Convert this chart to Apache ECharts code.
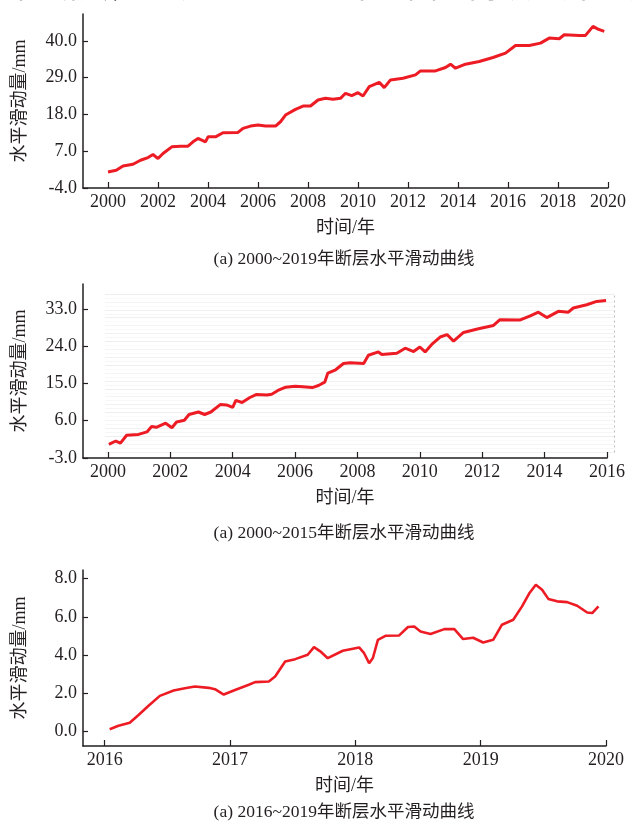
<!DOCTYPE html>
<html>
<head>
<meta charset="utf-8">
<script src="https://cdn.jsdelivr.net/npm/echarts/dist/echarts.min.js"></script>
<style>
  html, body { margin: 0; padding: 0; background: #fff; }
  #chart { width: 632px; height: 823px; }
</style>
</head>
<body>
<div id="chart"></div>
<script>
// Fault horizontal slip (mm) against time (decimal year)

// (a) 2000~2019
const years1 = [2000.0, 2000.33, 2000.6, 2001.0, 2001.3, 2001.6, 2001.8, 2002.0, 2002.2, 2002.55,
  2002.9, 2003.2, 2003.4, 2003.6, 2003.9, 2004.0, 2004.3, 2004.6, 2005.2, 2005.4,
  2005.7, 2006.0, 2006.3, 2006.7, 2006.9, 2007.1, 2007.5, 2007.8, 2008.1, 2008.4,
  2008.7, 2009.0, 2009.3, 2009.5, 2009.75, 2010.0, 2010.2, 2010.45, 2010.85, 2011.05,
  2011.3, 2011.8, 2012.3, 2012.5, 2013.1, 2013.5, 2013.7, 2013.9, 2014.3, 2014.85,
  2015.4, 2015.9, 2016.3, 2016.85, 2017.3, 2017.65, 2018.05, 2018.25, 2018.85, 2019.1,
  2019.4, 2019.6, 2019.85];
const slip1 = [0.8, 1.3, 2.6, 3.1, 4.3, 5.1, 6.0, 4.8, 6.3, 8.3,
  8.5, 8.5, 9.8, 10.8, 9.8, 11.3, 11.3, 12.5, 12.6, 13.8,
  14.5, 14.8, 14.5, 14.5, 15.8, 17.8, 19.5, 20.5, 20.5, 22.3,
  22.8, 22.5, 22.8, 24.3, 23.6, 24.5, 23.5, 26.3, 27.6, 26.0,
  28.3, 28.8, 29.8, 31.0, 31.0, 32.0, 33.0, 31.8, 33.0, 33.8,
  35.0, 36.3, 38.6, 38.6, 39.3, 40.8, 40.6, 41.8, 41.6, 41.6,
  44.3, 43.5, 42.8];

// (a) 2000~2015
const years2 = [2000.03, 2000.25, 2000.4, 2000.6, 2000.98, 2001.25, 2001.4, 2001.55, 2001.85, 2002.05,
  2002.2, 2002.45, 2002.6, 2002.9, 2003.1, 2003.3, 2003.6, 2003.8, 2004.0, 2004.1,
  2004.3, 2004.55, 2004.75, 2005.1, 2005.25, 2005.45, 2005.7, 2006.0, 2006.25, 2006.55,
  2006.75, 2006.95, 2007.05, 2007.3, 2007.55, 2007.77, 2008.2, 2008.35, 2008.67, 2008.78,
  2009.26, 2009.53, 2009.8, 2010.0, 2010.17, 2010.38, 2010.65, 2010.87, 2011.08, 2011.4,
  2011.88, 2012.36, 2012.57, 2013.2, 2013.54, 2013.8, 2014.07, 2014.44, 2014.76, 2014.92,
  2015.35, 2015.67, 2015.97];
const slip2 = [0.3, 1.1, 0.6, 2.5, 2.7, 3.3, 4.6, 4.4, 5.4, 4.3,
  5.7, 6.1, 7.5, 8.1, 7.5, 8.1, 9.9, 9.8, 9.2, 10.9,
  10.4, 11.6, 12.3, 12.2, 12.4, 13.3, 14.1, 14.3, 14.2, 14.0,
  14.5, 15.3, 17.5, 18.3, 19.8, 20.0, 19.8, 21.8, 22.6, 22.0,
  22.3, 23.5, 22.7, 23.8, 22.6, 24.4, 26.2, 26.8, 25.2, 27.3,
  28.2, 29.0, 30.4, 30.3, 31.3, 32.2, 30.9, 32.4, 32.2, 33.2,
  34.0, 34.8, 35.0];

// (a) 2016~2019
const years3 = [2016.04, 2016.11, 2016.2, 2016.27, 2016.35, 2016.44, 2016.55, 2016.64, 2016.72, 2016.83,
  2016.88, 2016.95, 2017.04, 2017.15, 2017.2, 2017.31, 2017.36, 2017.44, 2017.52, 2017.62,
  2017.67, 2017.72, 2017.78, 2017.9, 2018.03, 2018.07, 2018.11, 2018.14, 2018.18, 2018.24,
  2018.35, 2018.42, 2018.47, 2018.52, 2018.6, 2018.71, 2018.79, 2018.86, 2018.94, 2019.02,
  2019.1, 2019.17, 2019.26, 2019.33, 2019.39, 2019.44, 2019.49, 2019.54, 2019.61, 2019.69,
  2019.77, 2019.85, 2019.89, 2019.94];
const slip3 = [0.13, 0.31, 0.47, 0.87, 1.35, 1.87, 2.15, 2.27, 2.36, 2.29,
  2.22, 1.94, 2.18, 2.45, 2.59, 2.62, 2.88, 3.67, 3.79, 4.02,
  4.42, 4.2, 3.84, 4.23, 4.4, 4.1, 3.58, 3.85, 4.8, 5.01,
  5.03, 5.47, 5.5, 5.24, 5.1, 5.36, 5.36, 4.84, 4.91, 4.66,
  4.8, 5.59, 5.85, 6.55, 7.25, 7.68, 7.42, 6.94, 6.81, 6.77,
  6.58, 6.23, 6.2, 6.55];

// tick labels
const xTicks1 = [2000, 2002, 2004, 2006, 2008, 2010, 2012, 2014, 2016, 2018, 2020];
const yTicks1 = [-4, 7, 18, 29, 40];
const xTicks2 = [2000, 2002, 2004, 2006, 2008, 2010, 2012, 2014, 2016];
const yTicks2 = [-3, 6, 15, 24, 33];
const xTicks3 = [2016, 2017, 2018, 2019, 2020];
const yTicks3 = [0, 2, 4, 6, 8];

const captions = ['(a) 2000~2019年断层水平滑动曲线', '(a) 2000~2015年断层水平滑动曲线', '(a) 2016~2019年断层水平滑动曲线'];
const xName = '时间/年';
const yName = '水平滑动量/mm';

const INK = '#231f20';
const RED = '#ed1c24';
const FONT = "'Liberation Serif', 'Noto Sans CJK SC', serif";

const zip = (xs, ys) => xs.map((x, i) => [x, ys[i]]);

function xAxisDef(gridIndex, min, max, ticks) {
  return {
    type: 'value', gridIndex, min, max,
    axisLine: { show: true, onZero: false, lineStyle: { color: INK, width: 1.5 } },
    axisTick: { show: true, inside: true, length: 6, customValues: ticks, lineStyle: { color: INK, width: 1.2 } },
    axisLabel: { customValues: ticks, formatter: v => String(Math.round(v)), color: INK, fontSize: 18, fontFamily: FONT, margin: 5 },
    splitLine: { show: false },
    name: xName, nameLocation: 'middle', nameGap: 31,
    nameTextStyle: { color: INK, fontSize: 18, fontFamily: FONT }
  };
}

function yAxisDef(gridIndex, min, max, ticks) {
  return {
    type: 'value', gridIndex, min, max,
    axisLine: { show: true, onZero: false, lineStyle: { color: INK, width: 1.5 } },
    axisTick: { show: true, inside: true, length: 5, customValues: ticks, lineStyle: { color: INK, width: 1.2 } },
    axisLabel: { customValues: ticks, formatter: v => v.toFixed(1), color: INK, fontSize: 18, fontFamily: FONT, margin: 6 },
    splitLine: { show: false },
    name: yName, nameLocation: 'middle', nameGap: 54, nameRotate: 90,
    nameTextStyle: { color: INK, fontSize: 18, fontFamily: FONT }
  };
}

function lineSeries(axisIndex, data, width) {
  return {
    type: 'line', xAxisIndex: axisIndex, yAxisIndex: axisIndex,
    data, showSymbol: false, smooth: false,
    lineStyle: { color: RED, width },
    silent: true
  };
}

const chart = echarts.init(document.getElementById('chart'), null, { renderer: 'canvas' });

chart.setOption({
  animation: false,
  backgroundColor: '#fff',
  grid: [
    { left: 83, right: 24, top: 14, bottom: 635, containLabel: false },
    { left: 83, right: 25, top: 284, bottom: 365, containLabel: false },
    { left: 83, right: 26, top: 570, bottom: 77, containLabel: false },
    // faint ruled backdrop behind the middle panel
    { left: 105, right: 18, top: 294, bottom: 371, containLabel: false }
  ],
  xAxis: [
    xAxisDef(0, 1999, 2020, xTicks1),
    xAxisDef(1, 1999.2, 2016, xTicks2),
    xAxisDef(2, 2015.827, 2020, xTicks3),
    { type: 'value', gridIndex: 3, min: 0, max: 1, show: false }
  ],
  yAxis: [
    yAxisDef(0, -4, 48, yTicks1),
    yAxisDef(1, -3, 39, yTicks2),
    yAxisDef(2, -0.75, 8.45, yTicks3),
    {
      type: 'value', gridIndex: 3, min: 0, max: 40, interval: 1, position: 'right',
      axisLine: { show: true, onZero: false, lineStyle: { color: '#b8b8b8', width: 1, type: [1, 4] } },
      axisTick: { show: false }, axisLabel: { show: false },
      splitLine: { show: true, lineStyle: { width: 1, color: ['#f1f1f1', '#f8f8f8', '#f4f4f4', '#fafafa', '#eeeeee', '#f6f6f6'] } }
    }
  ],
  series: [
    lineSeries(0, zip(years1, slip1), 3),
    lineSeries(1, zip(years2, slip2), 3),
    lineSeries(2, zip(years3, slip3), 2.6)
  ],
  graphic: [
    { type: 'text', left: -14, top: -27, silent: true,
      style: { text: '时间断层，在该', fill: INK, font: "31px " + FONT } },
    { type: 'text', left: 232, top: -27, silent: true,
      style: { text: '2000~2019', fill: INK, font: "31px " + FONT } },
    { type: 'text', left: 345, top: -27, silent: true,
      style: { text: '年的曲线持续上升且表', fill: INK, font: "31px " + FONT } },
    { type: 'text', x: 344, y: 259, silent: true,
      style: { text: captions[0], fill: INK, font: "17.5px " + FONT, align: 'center', verticalAlign: 'middle' } },
    { type: 'text', x: 344, y: 533, silent: true,
      style: { text: captions[1], fill: INK, font: "17.5px " + FONT, align: 'center', verticalAlign: 'middle' } },
    { type: 'text', x: 344, y: 812, silent: true,
      style: { text: captions[2], fill: INK, font: "17.5px " + FONT, align: 'center', verticalAlign: 'middle' } }
  ]
});
</script>
</body>
</html>
